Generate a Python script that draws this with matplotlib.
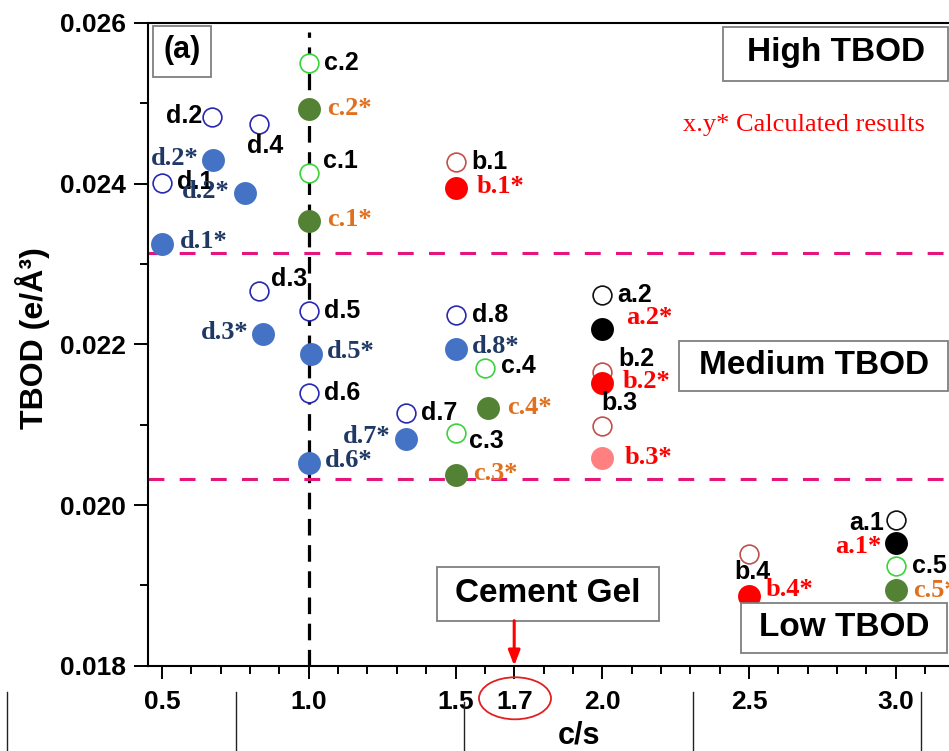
import matplotlib
matplotlib.use("Agg")
import matplotlib.pyplot as plt
from matplotlib.patches import Rectangle, Ellipse
from matplotlib.lines import Line2D
from matplotlib.ticker import MultipleLocator, FixedLocator, FormatStrFormatter

plt.rcParams["font.family"] = ["Liberation Sans", "DejaVu Sans"]
plt.rcParams["font.weight"] = "bold"

# ---- measured TBOD values (open symbols) ----
exp_labels = ["a.1", "a.2", "b.1", "b.2", "b.3", "b.4",
              "c.1", "c.2", "c.3", "c.4", "c.5",
              "d.1", "d.2", "d.3", "d.4", "d.5", "d.6", "d.7", "d.8"]
exp_cs = [3.0, 2.0, 1.5, 2.0, 2.0, 2.5,
          1.0, 1.0, 1.5, 1.6, 3.0,
          0.5, 0.67, 0.83, 0.83, 1.0, 1.0, 1.33, 1.5]
exp_tbod = [0.01981, 0.02261, 0.02427, 0.02166, 0.02098, 0.01939,
            0.02413, 0.02550, 0.02090, 0.02170, 0.01924,
            0.02401, 0.02483, 0.02266, 0.02474, 0.02242, 0.02139, 0.02114, 0.02237]

# ---- calculated TBOD values (filled symbols) ----
calc_labels = ["a.1*", "a.2*", "b.1*", "b.2*", "b.3*", "b.4*",
               "c.1*", "c.2*", "c.3*", "c.4*", "c.5*",
               "d.1*", "d.2*", "d.2*", "d.3*", "d.5*", "d.6*", "d.7*", "d.8*"]
calc_cs = [3.0, 2.0, 1.5, 2.0, 2.0, 2.5,
           1.0, 1.0, 1.5, 1.61, 3.0,
           0.5, 0.675, 0.783, 0.845, 1.007, 1.0, 1.33, 1.5]
calc_tbod = [0.01953, 0.02219, 0.02395, 0.02152, 0.02059, 0.01887,
             0.02353, 0.02493, 0.02037, 0.02121, 0.01894,
             0.02325, 0.02429, 0.02389, 0.02213, 0.02188, 0.02052, 0.02082, 0.02194]

# TBOD class boundaries and reference composition
tbod_limits = [0.02314, 0.02032]
cs_reference = 1.0
cs_gel = 1.7

x_ticks = [0.5, 1.0, 1.5, 1.7, 2.0, 2.5, 3.0]
x_tick_labels = ["0.5", "1.0", "1.5", "1.7", "2.0", "2.5", "3.0"]
y_ticks = [0.018, 0.020, 0.022, 0.024, 0.026]

# ---- styling ----
open_edge = {"a": "#111111", "b": "#C0504D", "c": "#3BD33B", "d": "#2828B4"}
filled_face = {"a": "#000000", "b": "#FF0000", "c": "#548235", "d": "#4472C4"}
calc_text = {"a": "#FF0000", "b": "#FF0000", "c": "#E0701E", "d": "#1F3864"}
special_face = {"b.3*": "#FF8080"}

# label placement: (ha, dx, dy) in pixels, dy positive downward
exp_place = {
    "a.1": ("right", -12, 3), "a.2": ("left", 15, 0), "b.1": ("left", 16, 0),
    "b.2": ("left", 16, -13), "b.3": ("left", -1, -23), "b.4": ("center", 3, 18),
    "c.1": ("left", 14, -12), "c.2": ("left", 15, 0), "c.3": ("left", 13, 8),
    "c.4": ("left", 16, -2), "c.5": ("left", 16, 0), "d.1": ("left", 15, -1),
    "d.2": ("right", -10, -1), "d.3": ("left", 12, -12), "d.4": ("left", -12, 22),
    "d.5": ("left", 15, 0), "d.6": ("left", 15, 0), "d.7": ("left", 15, 0),
    "d.8": ("left", 16, 0),
}
calc_place = [
    ("right", -14, 4), ("left", 24, -12), ("left", 21, -1), ("left", 20, -1),
    ("left", 22, 0), ("left", 17, -6), ("left", 18, -2), ("left", 18, 0),
    ("left", 18, -2), ("left", 19, 0), ("left", 17, 0), ("left", 18, -2),
    ("right", -15, -2), ("right", -15, -1), ("right", -15, -1), ("left", 16, -2),
    ("left", 16, -3), ("right", -15, -3), ("left", 16, -3),
]

W, H = 949, 751
fig = plt.figure(figsize=(W / 100, H / 100), dpi=100)
ax = fig.add_axes([148 / W, (H - 665.7) / H, (W - 148) / W, 642.7 / H])
ax.set_xlim(0.4523, 3.1814)
ax.set_ylim(0.018, 0.026)

for s in ["left", "bottom", "top"]:
    ax.spines[s].set_linewidth(1.5)
ax.spines["right"].set_visible(False)

ax.xaxis.set_major_locator(FixedLocator(x_ticks))
ax.set_xticklabels(x_tick_labels)
ax.xaxis.set_minor_locator(MultipleLocator(0.1))
ax.yaxis.set_major_locator(FixedLocator(y_ticks))
ax.yaxis.set_major_formatter(FormatStrFormatter("%.3f"))
ax.yaxis.set_minor_locator(MultipleLocator(0.001))
ax.tick_params(axis="x", which="major", length=9.5, width=1.4, pad=8, labelsize=19)
ax.tick_params(axis="x", which="minor", length=5.5, width=1.4)
ax.tick_params(axis="y", which="major", length=10, width=1.4, pad=6, labelsize=19)
ax.tick_params(axis="y", which="minor", length=6, width=1.4)
ax.tick_params(top=False, right=False, which="both")

# guide lines
ax.axvline(cs_reference, ymin=0, ymax=0.986, color="black", lw=2.3,
           dashes=(5.2, 3.0), zorder=1)
for lim in tbod_limits:
    ax.axhline(lim, color="#E6157E", lw=2.2, dashes=(5.2, 5.0), zorder=1)

# markers
for lab, x, y in zip(exp_labels, exp_cs, exp_tbod):
    g = lab[0]
    ax.plot(x, y, "o", ms=13.5, mfc="white", mec=open_edge[g], mew=1.2, zorder=3)
    ha, dx, dy = exp_place[lab]
    ax.annotate(lab, (x, y), xytext=(dx, -dy), textcoords="offset pixels",
                ha=ha, va="center", fontsize=18, fontweight="bold",
                color="black", zorder=5)

for lab, x, y, (ha, dx, dy) in zip(calc_labels, calc_cs, calc_tbod, calc_place):
    g = lab[0]
    face = special_face.get(lab, filled_face[g])
    ax.plot(x, y, "o", ms=16.5, mfc=face, mec=face, mew=0, zorder=4)
    ax.annotate(lab, (x, y), xytext=(dx, -dy), textcoords="offset pixels",
                ha=ha, va="center", fontsize=19, fontweight="bold",
                family=["Liberation Serif", "DejaVu Serif"],
                color=calc_text[g], zorder=5)

# region boxes
def boxed(x0, x1, y0, y1, text, tx, ty, size):
    ax.add_patch(Rectangle((x0, y0), x1 - x0, y1 - y0, transform=ax.transAxes,
                           fill=True, facecolor="white", edgecolor="#7F7F7F",
                           lw=1.3, zorder=6, clip_on=False))
    ax.text(tx, ty, text, transform=ax.transAxes, ha="center", va="center",
            fontsize=size, fontweight="bold", zorder=7)

def axfx(px):
    return (px - 148) / 801.0

def axfy(py):
    return (665.7 - py) / 642.7

boxed(axfx(153), axfx(210.7), axfy(76.7), axfy(25.7), "(a)", axfx(182), axfy(50), 22)
boxed(axfx(723.3), axfx(947.7), axfy(81), axfy(26.7), "High TBOD", axfx(836), axfy(52), 24)
boxed(axfx(679), axfx(947.7), axfy(391), axfy(340.7), "Medium TBOD", axfx(814), axfy(365), 24)
boxed(axfx(741), axfx(946.7), axfy(653.3), axfy(602.7), "Low TBOD", axfx(844), axfy(627), 24)
boxed(axfx(437.3), axfx(659), axfy(620.7), axfy(566.7), "Cement Gel", axfx(548), axfy(593), 24)

ax.text(axfx(683), axfy(125), "x.y* Calculated results", transform=ax.transAxes,
        ha="left", va="center", fontsize=19, fontweight="normal",
        family=["Liberation Serif", "DejaVu Serif"], color="#FF0000", zorder=7)

# arrow pointing at the cement gel composition
ax.annotate("", xy=(cs_gel, 0.0), xycoords=("data", "axes fraction"),
            xytext=(cs_gel, axfy(620.7)), textcoords=("data", "axes fraction"),
            arrowprops=dict(arrowstyle="-|>,head_length=0.9,head_width=0.35",
                            color="#FF0000", lw=2.2, shrinkA=0, shrinkB=0),
            zorder=8, annotation_clip=False)

# circle around the 1.7 tick label
fig.add_artist(Ellipse((515 / W, (H - 698.3) / H), 72 / W, 42 / H,
                       transform=fig.transFigure, fill=False,
                       edgecolor="#E02020", lw=1.3))

# axis titles
fig.text(33 / W, (H - 338) / H, "TBOD (e/Å³)", rotation=90, ha="center",
         va="center", fontsize=23, fontweight="bold")
fig.text(579 / W, (H - 735) / H, "c/s", ha="center", va="center",
         fontsize=22, fontweight="bold")

# table rulings below the axis
for px, top in [(7, 692), (236, 692), (464, 702), (693, 692), (921, 692)]:
    fig.add_artist(Line2D([px / W, px / W], [0, (H - top) / H],
                          transform=fig.transFigure, color="#222222", lw=1.0))

fig.savefig("out.png", dpi=100)
